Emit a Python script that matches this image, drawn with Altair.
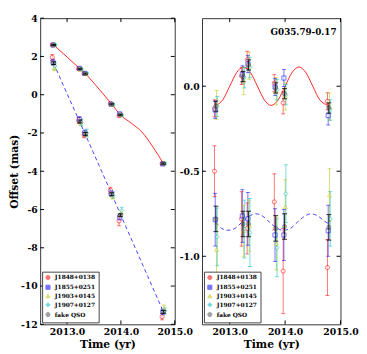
import altair as alt
import pandas as pd

# ---------------- data ----------------
epochs = [2012.75, 2013.24, 2013.34, 2013.83, 2013.99, 2014.79]
series_names = ["J1848+0138", "J1855+0251", "J1903+0145", "J1907+0127", "fake QSO"]
series_colors = ["#ff0000", "#0000ff", "#bfbf00", "#00bfbf", "#555555"]
series_fill = ["#ffffff", "#ffffff", "#ffffff", "#ffffff", "#808080"]
series_shapes = ["circle", "square", "triangle-up", "diamond", "circle"]
series_shift = [-0.025, -0.012, 0.012, 0.025, 0.0]

# left panel, upper track (solid red)
L_up_J1848 = [2.60, 1.35, 1.10, -0.45, -1.10, -3.60]
L_up_J1855 = [2.60, 1.38, 1.12, -0.50, -1.00, -3.62]
L_up_J1903 = [2.62, 1.33, 1.10, -0.52, -1.05, -3.58]
L_up_J1907 = [2.60, 1.34, 1.12, -0.52, -1.07, -3.60]
L_up_QSO = [2.60, 1.35, 1.10, -0.50, -1.05, -3.60]
# left panel, lower track (dashed blue)
L_lo_J1848 = [1.95, -1.35, -2.10, -5.00, -6.60, -11.60]
L_lo_J1855 = [1.70, -1.30, -2.00, -5.15, -6.40, -11.35]
L_lo_J1903 = [1.40, -1.45, -2.05, -5.30, -6.20, -11.15]
L_lo_J1907 = [1.50, -1.45, -2.00, -5.25, -6.05, -11.30]
L_lo_QSO = [1.65, -1.40, -2.05, -5.20, -6.30, -11.35]

# right panel, upper track
R_up_J1848 = [-0.130, 0.060, 0.155, 0.018, -0.098, -0.089]
R_up_J1855 = [-0.140, 0.070, 0.130, -0.005, 0.048, -0.173]
R_up_J1903 = [-0.110, 0.030, 0.120, -0.030, -0.060, -0.120]
R_up_J1907 = [-0.120, 0.050, 0.110, -0.020, -0.050, -0.140]
R_up_QSO = [-0.117, 0.057, 0.125, -0.010, -0.044, -0.128]
# right panel, lower track
R_lo_J1848 = [-0.500, -0.780, -0.836, -0.680, -1.087, -1.066]
R_lo_J1855 = [-0.785, -0.763, -0.780, -0.875, -0.875, -0.850]
R_lo_J1903 = [-0.960, -0.850, -0.820, -0.925, -0.710, -0.640]
R_lo_J1907 = [-0.886, -0.840, -0.860, -0.950, -0.632, -0.780]
R_lo_QSO = [-0.780, -0.810, -0.810, -0.836, -0.825, -0.830]

# error bars (mas)
err_up_J1848 = [0.05, 0.05, 0.05, 0.05, 0.065, 0.05]
err_up_J1855 = [0.05, 0.05, 0.05, 0.05, 0.05, 0.055]
err_up_J1903 = [0.085, 0.08, 0.08, 0.08, 0.08, 0.08]
err_up_J1907 = [0.06, 0.06, 0.06, 0.06, 0.06, 0.06]
err_up_QSO = [0.03, 0.03, 0.03, 0.03, 0.03, 0.03]
err_lo_J1848 = [0.15, 0.16, 0.15, 0.165, 0.25, 0.165]
err_lo_J1855 = [0.155, 0.155, 0.155, 0.155, 0.15, 0.15]
err_lo_J1903 = [0.15, 0.15, 0.15, 0.155, 0.16, 0.155]
err_lo_J1907 = [0.17, 0.17, 0.2, 0.17, 0.17, 0.16]
err_lo_QSO = [0.075, 0.075, 0.075, 0.075, 0.075, 0.075]

# model curves
L_red_t = [2012.75, 2013.0, 2013.24, 2013.34, 2013.5, 2013.83, 2013.99, 2014.2, 2014.39, 2014.6, 2014.79]
L_red_v = [2.60, 1.97, 1.35, 1.10, 0.60, -0.50, -1.05, -1.50, -1.95, -2.75, -3.60]
L_blue_t = [2012.75, 2013.0, 2013.24, 2013.5, 2013.83, 2014.0, 2014.5, 2014.79]
L_blue_v = [1.65, 0.05, -1.45, -3.10, -5.20, -6.30, -9.50, -11.35]
R_red_t = [2012.75, 2012.875, 2013.0, 2013.125, 2013.25, 2013.375, 2013.5, 2013.625, 2013.75,
           2013.875, 2014.0, 2014.125, 2014.25, 2014.375, 2014.5, 2014.625, 2014.79]
R_red_v = [-0.113, -0.08, 0.0, 0.08, 0.113, 0.08, 0.0, -0.08, -0.113,
           -0.08, 0.0, 0.08, 0.113, 0.08, 0.0, -0.08, -0.113]
R_blue_t = [2012.75, 2012.85, 2012.97, 2013.1, 2013.22, 2013.35, 2013.47, 2013.6, 2013.72,
            2013.85, 2013.97, 2014.1, 2014.22, 2014.35, 2014.47, 2014.6, 2014.72, 2014.79]
R_blue_v = [-0.80, -0.835, -0.847, -0.835, -0.80, -0.765, -0.75, -0.765, -0.80,
            -0.835, -0.847, -0.835, -0.80, -0.765, -0.75, -0.765, -0.795, -0.81]

x_ticks = [2013.0, 2014.0, 2015.0]
L_y_ticks = [-12, -10, -8, -6, -4, -2, 0, 2, 4]
R_y_ticks = [-1.0, -0.5, 0.0]
panel_label = "G035.79-0.17"

FONT = "DejaVu Serif"
H = 314


def build_points(ups, los, eus, els):
    rows = []
    for grp, vals, errs in (("up", ups, eus), ("lo", los, els)):
        for i, name in enumerate(series_names):
            for j, t in enumerate(epochs):
                v = vals[i][j]
                e = errs[i][j]
                rows.append(dict(series=name, order=i, t=t + series_shift[i], v=v,
                                 lo=v - e, hi=v + e, grp=grp))
    return pd.DataFrame(rows)


L_points = build_points(
    [L_up_J1848, L_up_J1855, L_up_J1903, L_up_J1907, L_up_QSO],
    [L_lo_J1848, L_lo_J1855, L_lo_J1903, L_lo_J1907, L_lo_QSO],
    [err_up_J1848, err_up_J1855, err_up_J1903, err_up_J1907, err_up_QSO],
    [err_lo_J1848, err_lo_J1855, err_lo_J1903, err_lo_J1907, err_lo_QSO])
R_points = build_points(
    [R_up_J1848, R_up_J1855, R_up_J1903, R_up_J1907, R_up_QSO],
    [R_lo_J1848, R_lo_J1855, R_lo_J1903, R_lo_J1907, R_lo_QSO],
    [err_up_J1848, err_up_J1855, err_up_J1903, err_up_J1907, err_up_QSO],
    [err_lo_J1848, err_lo_J1855, err_lo_J1903, err_lo_J1907, err_lo_QSO])


def panel(points, red_t, red_v, blue_t, blue_v, ydom, yticks, yfmt, ytitle, W, label=None):
    xs = alt.Scale(domain=[2012.5, 2015.0], nice=False, zero=False)
    ys = alt.Scale(domain=ydom, nice=False, zero=False)
    xax = alt.Axis(values=x_ticks, format=".1f", title="Time (yr)", ticks=False, domain=False,
                   grid=False, labelFlush=False, labelPadding=2, titlePadding=3)
    yax = alt.Axis(values=yticks, format=yfmt, title=ytitle, ticks=False, domain=False,
                   grid=False, labelFlush=False, labelPadding=3, titlePadding=1,
                   labelExpr="replace(datum.label, '\u2212', '-')")
    X = lambda f: alt.X(f, type="quantitative", scale=xs, axis=xax)
    Y = lambda f: alt.Y(f, type="quantitative", scale=ys, axis=yax)
    leg = alt.Legend(orient="bottom-left", offset=2, title=None)
    col = alt.Color("series:N", scale=alt.Scale(domain=series_names, range=series_colors), legend=leg)
    fil = alt.Fill("series:N", scale=alt.Scale(domain=series_names, range=series_fill), legend=leg)
    shp = alt.Shape("series:N", scale=alt.Scale(domain=series_names, range=series_shapes), legend=leg)
    siz = alt.Size("series:N", scale=alt.Scale(domain=series_names, range=[18, 18, 20, 18, 60]), legend=leg)
    opa = alt.Opacity("series:N", scale=alt.Scale(domain=series_names, range=[0.55, 0.55, 0.6, 0.6, 0.85]), legend=leg)

    base = alt.Chart(points)
    cal = base.transform_filter(alt.datum.series != "fake QSO")
    qso = base.transform_filter(alt.datum.series == "fake QSO")

    ebar = cal.mark_rule(strokeWidth=1, opacity=0.55).encode(
        x=X("t"), y=Y("lo"), y2="hi", color=col)
    cap_lo = cal.mark_tick(orient="horizontal", size=4, thickness=1, opacity=0.55).encode(
        x=X("t"), y=Y("lo"), color=col)
    cap_hi = cal.mark_tick(orient="horizontal", size=4, thickness=1, opacity=0.55).encode(
        x=X("t"), y=Y("hi"), color=col)

    red = alt.Chart(pd.DataFrame({"t": red_t, "v": red_v})).mark_line(
        color="#ff0000", strokeWidth=1, opacity=0.85, interpolate="monotone").encode(x=X("t"), y=Y("v"))
    blue = alt.Chart(pd.DataFrame({"t": blue_t, "v": blue_v})).mark_line(
        color="#0000ff", strokeWidth=1, opacity=0.75, strokeDash=[4, 3], interpolate="monotone").encode(
        x=X("t"), y=Y("v"))

    pts = base.mark_point(filled=False, strokeWidth=1).encode(
        x=X("t"), y=Y("v"), color=col, fill=fil, shape=shp, size=siz, opacity=opa,
        order=alt.Order("order:Q"))

    qbar = qso.mark_rule(strokeWidth=1, color="black", opacity=0.8).encode(x=X("t"), y=Y("lo"), y2="hi")
    qcap_lo = qso.mark_tick(orient="horizontal", size=5, thickness=1, color="black", opacity=0.8).encode(
        x=X("t"), y=Y("lo"))
    qcap_hi = qso.mark_tick(orient="horizontal", size=5, thickness=1, color="black", opacity=0.8).encode(
        x=X("t"), y=Y("hi"))

    # inward ticks on all four sides
    yt = alt.Chart(pd.DataFrame({"v": yticks}))
    xt = alt.Chart(pd.DataFrame({"t": x_ticks}))
    tl = yt.mark_rule(color="black").encode(y=Y("v"), x=alt.value(0), x2=alt.value(4))
    tr = yt.mark_rule(color="black").encode(y=Y("v"), x=alt.value(W - 4), x2=alt.value(W))
    tb = xt.mark_rule(color="black").encode(x=X("t"), y=alt.value(H - 4), y2=alt.value(H))
    tt = xt.mark_rule(color="black").encode(x=X("t"), y=alt.value(0), y2=alt.value(4))

    layers = [red, blue, ebar, cap_lo, cap_hi, pts, qbar, qcap_lo, qcap_hi, tl, tr, tb, tt]
    if label:
        txt = alt.Chart(pd.DataFrame({"s": [label]})).mark_text(
            align="right", baseline="top", font=FONT, fontWeight="bold", fontSize=9, color="black").encode(
            x=alt.value(W - 4), y=alt.value(10), text="s:N")
        layers.append(txt)
    return alt.layer(*layers).properties(width=W, height=H)


left = panel(L_points, L_red_t, L_red_v, L_blue_t, L_blue_v, [-12, 4], L_y_ticks, "d", "Offset (mas)", 138)
right = panel(R_points, R_red_t, R_red_v, R_blue_t, R_blue_v, [-1.4, 0.4], R_y_ticks, ".1f", None, 142,
              label=panel_label)

chart = alt.hconcat(left, right, spacing=28, bounds="flush").resolve_scale(
    color="independent", fill="independent", shape="independent", size="independent",
    opacity="independent", x="independent", y="independent"
).configure(padding={"left": 0, "top": 0, "right": 0, "bottom": 0}).configure_view(
    stroke="#333333", strokeWidth=1
).configure_axis(
    labelFont=FONT, labelFontWeight="bold", labelFontSize=9.5, labelColor="black",
    titleFont=FONT, titleFontWeight="bold", titleFontSize=11, titleColor="black"
).configure_legend(
    labelFont=FONT, labelFontWeight="bold", labelFontSize=6, labelColor="black",
    strokeColor="#444444", fillColor="white", padding=3, rowPadding=0, labelOffset=4,
    symbolStrokeWidth=1, cornerRadius=0
)

chart.save("out.html", embed_options={"renderer": "svg", "actions": False})
